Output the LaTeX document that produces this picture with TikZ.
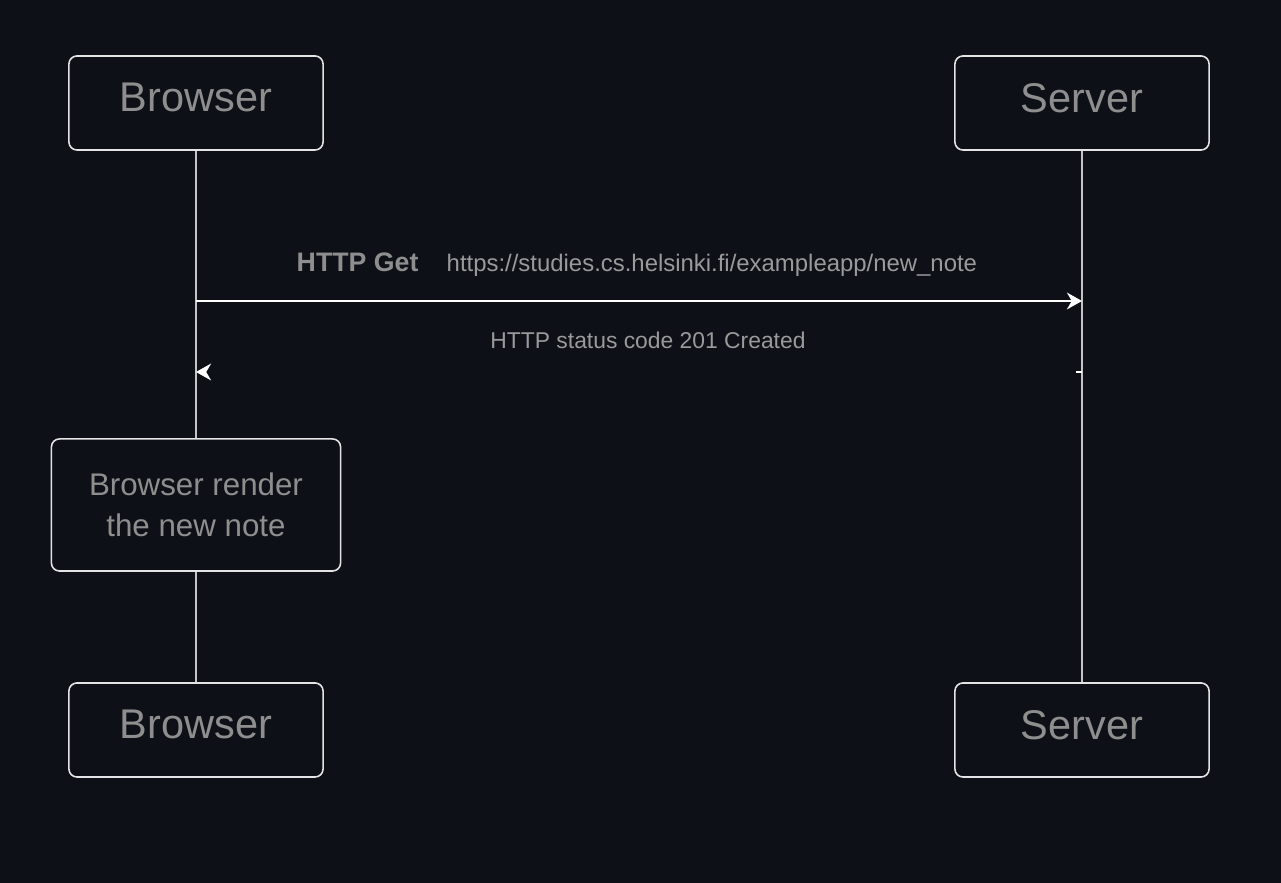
\documentclass[tikz,border=0pt]{standalone}
\usepackage{fontspec}
\setmainfont{Liberation Sans}
\usetikzlibrary{arrows.meta}
\definecolor{bgdark}{HTML}{0D1017}
\definecolor{boxline}{HTML}{E4E4E4}
\definecolor{labelgray}{HTML}{8E8E8E}
\definecolor{msggray}{HTML}{9A9A9A}
\definecolor{lifegray}{HTML}{C4C4C4}

\tikzset{
	actor/.style={draw=boxline, line width=0.45pt, rounded corners=0.08cm,
		minimum width=2.54cm, minimum height=0.94cm, inner sep=0pt, text depth=3pt,
		text=labelgray, font=\fontsize{11.8}{14}\selectfont},
	notebox/.style={draw=boxline, line width=0.45pt, rounded corners=0.08cm,
		minimum width=2.89cm, minimum height=1.32cm, inner sep=0pt, align=center,
		text=labelgray, font=\fontsize{8.9}{11.5}\selectfont},
	life/.style={draw=lifegray, line width=0.35pt},
	msg/.style={draw=white, line width=0.45pt,
		-{Stealth[length=4.3pt, width=4.8pt, inset=1.4pt]}},
	msglabel/.style={text=msggray, inner sep=0pt, font=\fontsize{6.8}{8}\selectfont}
}

\begin{document}
\begin{tikzpicture}[x=0.01cm, y=-0.01cm]
		%%%%% START %%%%%
		
		\fill[bgdark] (0, 0) rectangle (1281, 883);
		
		% participants
		\node[actor] (browserTop) at (196, 103) {Browser};
		\node[actor] (serverTop) at (1082, 103) {Server};
		\node[actor] (browserBot) at (196, 730) {Browser};
		\node[actor] (serverBot) at (1082, 730) {Server};
		
		\node[notebox] (render) at (196, 505) {Browser render\\the new note};
		
		% lifelines
		\draw[life] (browserTop) -- (render);
		\draw[life] (render) -- (browserBot);
		\draw[life] (serverTop) -- (serverBot);
		
		% request
		\coordinate (reqB) at (196, 301);
		\coordinate (reqS) at (1082, 301);
		\draw[msg] (reqB) -- (reqS);
		\node[msglabel, anchor=base west, text=labelgray, font=\fontsize{7.6}{9}\selectfont\bfseries] (getLbl) at (296, 272) {HTTP Get};
		\node[msglabel, anchor=base west] (urlLbl) at (446, 272) {https://studies.cs.helsinki.fi/exampleapp/new\_note};
		
		% response
		\coordinate (resS) at (1082, 372);
		\coordinate (resB) at (196, 372);
		\draw[msg, dash pattern=on 1.7pt off 400pt] (resS) -- (resB);
		\node[msglabel, anchor=base, font=\fontsize{6.5}{8}\selectfont] (statusLbl) at (648, 349) {HTTP status code 201 Created};
		
		%%%%% END %%%%%
	\end{tikzpicture}
\end{document}
